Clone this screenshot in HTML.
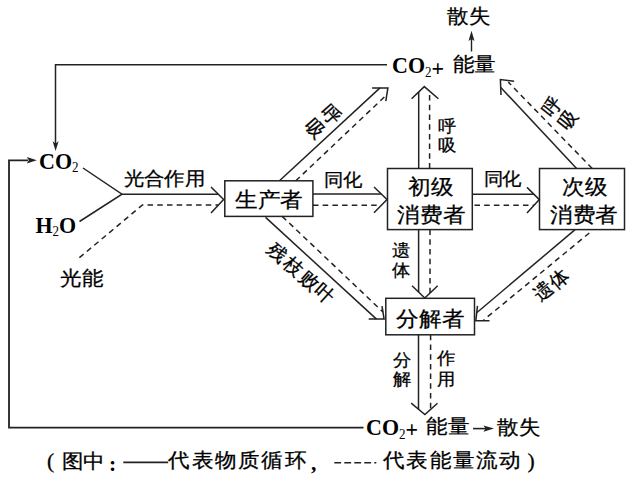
<!DOCTYPE html><html><head><meta charset="utf-8"><style>html,body{margin:0;padding:0;background:#fff;width:635px;height:481px;overflow:hidden}svg{display:block}text{font-family:"Liberation Serif",serif;fill:#000;stroke:#000;stroke-width:0.3px}text[font-weight=bold]{stroke:none}</style></head><body>
<svg width="635" height="481" viewBox="0 0 635 481">
<polyline points="387,64.8 55.5,64.8 55.5,144" fill="none" stroke="#222" stroke-width="1.5"/>
<path d="M55.6,151 L52.6,141.3 L55.6,143.5 L58.6,141.3 Z" fill="#222"/>
<polyline points="363.5,427.6 9,427.6 9,160.3 28,160.3" fill="none" stroke="#222" stroke-width="1.8"/>
<path d="M36.8,160.3 L26.8,157.1 L28.8,160.3 L26.8,163.5 Z" fill="#222"/>
<text transform="translate(39,168.8) scale(1,1.09)" font-size="22" font-weight="bold">CO<tspan font-size="13" font-weight="normal" dy="3.2">2</tspan></text>
<text transform="translate(35.5,232.6) scale(1,1.09)" font-size="22" font-weight="bold">H<tspan font-size="13" font-weight="normal" dy="3.2">2</tspan><tspan dy="-3.2">O</tspan></text>
<polyline points="83,168 122,194.2 79.5,221.5" fill="none" stroke="#222" stroke-width="1.5"/>
<line x1="122" y1="194.2" x2="218.2" y2="194.2" stroke="#222" stroke-width="1.5"/>
<polyline points="79.4,257.7 142.4,205 218.3,205" fill="none" stroke="#222" stroke-width="1.5" stroke-dasharray="5.5 4.2"/>
<polyline points="211,187 223.6,199.5 211,212.9" fill="none" stroke="#222" stroke-width="1.5"/>
<text transform="translate(123.50,169.90) scale(1,0.93)" y="16.40" font-size="20" letter-spacing="0.7">光合作用</text>
<text transform="translate(60.28,268.20) scale(1,0.93)" y="18.04" font-size="22">光能</text>
<rect x="224.8" y="180.8" width="88.09999999999997" height="35.599999999999994" fill="none" stroke="#222" stroke-width="1.5"/>
<text transform="translate(234.77,189.40) scale(1,0.93)" y="18.86" font-size="23">生产者</text>
<rect x="387.5" y="168.5" width="84.80000000000001" height="61.099999999999994" fill="none" stroke="#222" stroke-width="1.5"/>
<text transform="translate(408.07,176.30) scale(1,0.93)" y="18.86" font-size="23">初级</text>
<text transform="translate(397.27,204.30) scale(1,0.93)" y="18.86" font-size="23">消费者</text>
<rect x="539.5" y="168.5" width="85.0" height="61.099999999999994" fill="none" stroke="#222" stroke-width="1.5"/>
<text transform="translate(562.17,176.30) scale(1,0.93)" y="18.86" font-size="23">次级</text>
<text transform="translate(549.77,204.30) scale(1,0.93)" y="18.86" font-size="23">消费者</text>
<rect x="385.8" y="298.3" width="88.69999999999999" height="36.5" fill="none" stroke="#222" stroke-width="1.5"/>
<text transform="translate(396.27,308.10) scale(1,0.93)" y="18.86" font-size="23">分解者</text>
<line x1="313" y1="194.1" x2="381.4" y2="194.1" stroke="#222" stroke-width="1.5"/>
<line x1="313" y1="205.2" x2="381.5" y2="205.2" stroke="#222" stroke-width="1.5" stroke-dasharray="5.5 4.2"/>
<polyline points="374,187 387,199.4 374,212.8" fill="none" stroke="#222" stroke-width="1.5"/>
<text transform="translate(324.21,171.50) scale(1,0.93)" y="15.58" font-size="19">同化</text>
<line x1="472.3" y1="194.2" x2="533.9" y2="194.2" stroke="#222" stroke-width="1.5"/>
<line x1="474.5" y1="205.3" x2="534" y2="205.3" stroke="#222" stroke-width="1.5" stroke-dasharray="5.5 4.2"/>
<polyline points="527,187.4 539.3,199.6 527,212.9" fill="none" stroke="#222" stroke-width="1.5"/>
<text transform="translate(483.71,171.00) scale(1,0.93)" y="15.58" font-size="19">同化</text>
<line x1="418.7" y1="168.5" x2="418.7" y2="91.9" stroke="#222" stroke-width="1.5"/>
<line x1="429.6" y1="168.5" x2="429.6" y2="91.1" stroke="#222" stroke-width="1.5" stroke-dasharray="5.5 4.2"/>
<polyline points="411.6,98.7 424.3,86.6 438.4,98.7" fill="none" stroke="#222" stroke-width="1.5"/>
<text transform="translate(438.21,118.10) scale(1,0.93)" y="15.17" font-size="18.5">呼</text>
<text transform="translate(438.21,136.90) scale(1,0.93)" y="15.17" font-size="18.5">吸</text>
<line x1="418.6" y1="229.6" x2="418.6" y2="292" stroke="#222" stroke-width="1.5"/>
<line x1="430" y1="229.6" x2="430" y2="293" stroke="#222" stroke-width="1.5" stroke-dasharray="5.5 4.2"/>
<polyline points="412,285.7 424.8,298 437.7,285.7" fill="none" stroke="#222" stroke-width="1.5"/>
<text transform="translate(392.42,242.00) scale(1,0.93)" y="15.17" font-size="18.5">遗</text>
<text transform="translate(392.42,261.70) scale(1,0.93)" y="15.17" font-size="18.5">体</text>
<line x1="418.5" y1="334.8" x2="418.5" y2="409.3" stroke="#222" stroke-width="1.5"/>
<line x1="430.6" y1="334.8" x2="430.6" y2="409.4" stroke="#222" stroke-width="1.5" stroke-dasharray="5.5 4.2"/>
<polyline points="411.2,403.2 424.9,414.6 437.5,403.2" fill="none" stroke="#222" stroke-width="1.5"/>
<text transform="translate(392.71,351.40) scale(1,0.93)" y="15.17" font-size="18.5">分</text>
<text transform="translate(392.71,370.90) scale(1,0.93)" y="15.17" font-size="18.5">解</text>
<text transform="translate(437.31,350.30) scale(1,0.93)" y="15.17" font-size="18.5">作</text>
<text transform="translate(437.31,371.20) scale(1,0.93)" y="15.17" font-size="18.5">用</text>
<line x1="279.5" y1="180.8" x2="380" y2="87.9" stroke="#222" stroke-width="1.5"/>
<line x1="295.8" y1="180.8" x2="387" y2="94.5" stroke="#222" stroke-width="1.5" stroke-dasharray="5.5 4.2"/>
<polyline points="372.1,87.9 387.9,87.9 385.8,101.2" fill="none" stroke="#222" stroke-width="1.5"/>
<text transform="translate(332,113.6) rotate(48)" x="-9.12" y="7.32" font-size="19">呼</text>
<text transform="translate(316,127.4) rotate(48)" x="-9.12" y="7.32" font-size="19">吸</text>
<line x1="265.6" y1="217.4" x2="376.5" y2="319.1" stroke="#222" stroke-width="1.5"/>
<line x1="282.2" y1="216.4" x2="383" y2="312" stroke="#222" stroke-width="1.5" stroke-dasharray="5.5 4.2"/>
<polyline points="368.7,319.1 384.1,319.1 382,306.2" fill="none" stroke="#222" stroke-width="1.5"/>
<text transform="translate(278.0,252.0) rotate(42)" x="-9.12" y="7.32" font-size="19">残</text>
<text transform="translate(293.6,265.7) rotate(42)" x="-9.12" y="7.32" font-size="19">枝</text>
<text transform="translate(309.2,279.4) rotate(42)" x="-9.12" y="7.32" font-size="19">败</text>
<text transform="translate(324.8,293.1) rotate(42)" x="-9.12" y="7.32" font-size="19">叶</text>
<line x1="576.6" y1="168.5" x2="500.8" y2="87.5" stroke="#222" stroke-width="1.5"/>
<line x1="592.2" y1="168.5" x2="508.3" y2="82.1" stroke="#222" stroke-width="1.5" stroke-dasharray="5.5 4.2"/>
<polyline points="514.1,81.2 500.4,79.6 501,95" fill="none" stroke="#222" stroke-width="1.5"/>
<text transform="translate(550.6,106.6) rotate(-51)" x="-9.12" y="7.32" font-size="19">呼</text>
<text transform="translate(567.5,119.8) rotate(-51)" x="-9.12" y="7.32" font-size="19">吸</text>
<line x1="575.1" y1="229.6" x2="477" y2="312.5" stroke="#222" stroke-width="1.5"/>
<line x1="589.3" y1="233" x2="483.7" y2="320" stroke="#222" stroke-width="1.5" stroke-dasharray="5.5 4.2"/>
<polyline points="477.5,305.8 475.8,320.8 489.5,320.8" fill="none" stroke="#222" stroke-width="1.5"/>
<text transform="translate(542.4,290.2) rotate(-40)" x="-9.12" y="7.32" font-size="19">遗</text>
<text transform="translate(558.4,278.8) rotate(-40)" x="-9.12" y="7.32" font-size="19">体</text>
<text transform="translate(392,73.4) scale(1,1.09)" font-size="22" font-weight="bold">CO<tspan font-size="13" font-weight="normal" dy="3.6">2</tspan><tspan dy="-1.6">+</tspan></text>
<text transform="translate(452.58,54.70) scale(1,0.93)" y="18.04" font-size="22">能量</text>
<line x1="471.5" y1="51.5" x2="471.5" y2="39" stroke="#222" stroke-width="1.4"/>
<path d="M471.5,30.8 L468.5,41 L471.5,39 L474.5,41 Z" fill="#222"/>
<text transform="translate(447.28,6.60) scale(1,0.93)" y="18.04" font-size="22">散失</text>
<text transform="translate(366,435) scale(1,1.09)" font-size="22" font-weight="bold">CO<tspan font-size="13" font-weight="normal" dy="3.6">2</tspan><tspan dy="-1.6">+</tspan></text>
<text transform="translate(426.18,416.50) scale(1,0.93)" y="18.04" font-size="22">能量</text>
<line x1="473" y1="428.6" x2="486" y2="428.6" stroke="#222" stroke-width="1.6"/>
<path d="M494,428.6 L483.5,425.5 L485.5,428.6 L483.5,431.7 Z" fill="#222"/>
<text transform="translate(497.48,417.00) scale(1,0.93)" y="18.04" font-size="22">散失</text>
<text transform="translate(61.68,451.50) scale(1,0.93)" y="17.63" font-size="21.5">图中</text>
<text x="47" y="467.5" font-size="21.5">(</text>
<text x="109" y="471" font-size="21.5" font-weight="bold">:</text>
<line x1="123.3" y1="462.4" x2="168.2" y2="462.4" stroke="#222" stroke-width="1.6"/>
<text transform="translate(168.28,451.00) scale(1,0.93)" y="17.63" font-size="21.5" letter-spacing="1.5">代表物质循环</text>
<text x="311" y="469.5" font-size="21.5" font-weight="bold">,</text>
<line x1="334.3" y1="462.8" x2="376.3" y2="462.8" stroke="#222" stroke-width="1.5" stroke-dasharray="6.8 3.2"/>
<text transform="translate(383.09,451.00) scale(1,0.93)" y="17.63" font-size="21.5" letter-spacing="1.5">代表能量流动</text>
<text x="527.5" y="467.5" font-size="21.5">)</text>
</svg></body></html>
